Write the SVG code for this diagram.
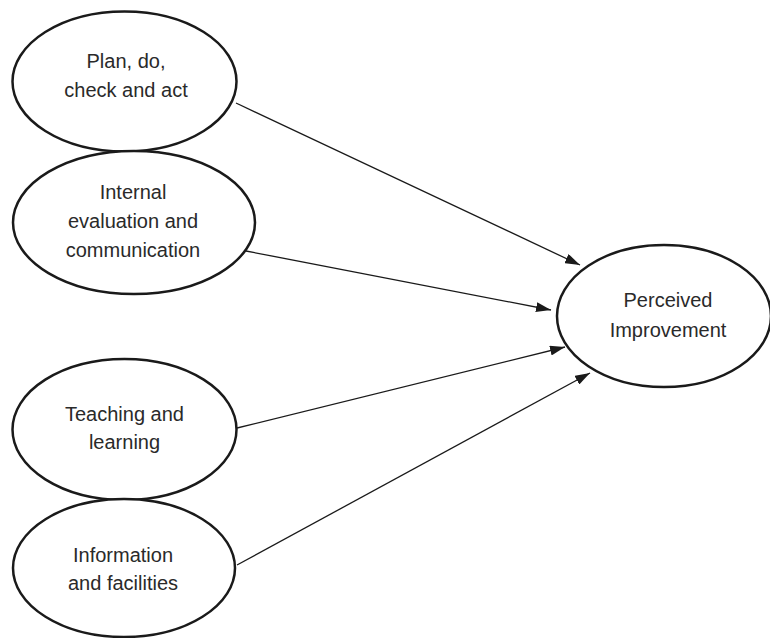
<svg xmlns="http://www.w3.org/2000/svg" width="770" height="638" viewBox="0 0 770 638">
  <style>
    .node ellipse { fill: #ffffff; stroke: #1a1a1a; stroke-width: 2.5; }
    .node text { font-family: "Liberation Sans", Arial, sans-serif; font-size: 20px; fill: #2a2a2a; text-anchor: middle; }
    .edge { stroke: #1a1a1a; stroke-width: 1.3; fill: none; marker-end: url(#arrow); }
  </style>
  <defs>
    <marker id="arrow" markerUnits="userSpaceOnUse" markerWidth="15" markerHeight="10" refX="15" refY="5" orient="auto">
      <path d="M0,0 L15,5 L0,10 z" fill="#1a1a1a"/>
    </marker>
  </defs>
  <rect width="770" height="638" fill="#ffffff"/>

  <g id="connectors">
    <line class="edge" x1="236" y1="103" x2="580" y2="265"/>
    <line class="edge" x1="246" y1="251" x2="551" y2="310"/>
    <line class="edge" x1="237" y1="428" x2="565" y2="347"/>
    <line class="edge" x1="237" y1="565" x2="590" y2="373"/>
  </g>

  <g id="node-pdca" class="node">
    <ellipse cx="124.5" cy="81.5" rx="112" ry="70"/>
    <text x="126" y="68">Plan, do,</text>
    <text x="126" y="97">check and act</text>
  </g>

  <g id="node-internal" class="node">
    <ellipse cx="134" cy="222.5" rx="121" ry="71.5"/>
    <text x="133" y="199">Internal</text>
    <text x="133" y="228">evaluation and</text>
    <text x="133" y="257">communication</text>
  </g>

  <g id="node-teaching" class="node">
    <ellipse cx="124.5" cy="429.5" rx="112" ry="70.5"/>
    <text x="124.5" y="421">Teaching and</text>
    <text x="124.5" y="449">learning</text>
  </g>

  <g id="node-information" class="node">
    <ellipse cx="124" cy="568" rx="111" ry="69"/>
    <text x="123" y="561.5">Information</text>
    <text x="123" y="590">and facilities</text>
  </g>

  <g id="node-perceived" class="node">
    <ellipse cx="664" cy="316" rx="107" ry="71"/>
    <text x="668" y="306.5">Perceived</text>
    <text x="668" y="336.5">Improvement</text>
  </g>
</svg>
